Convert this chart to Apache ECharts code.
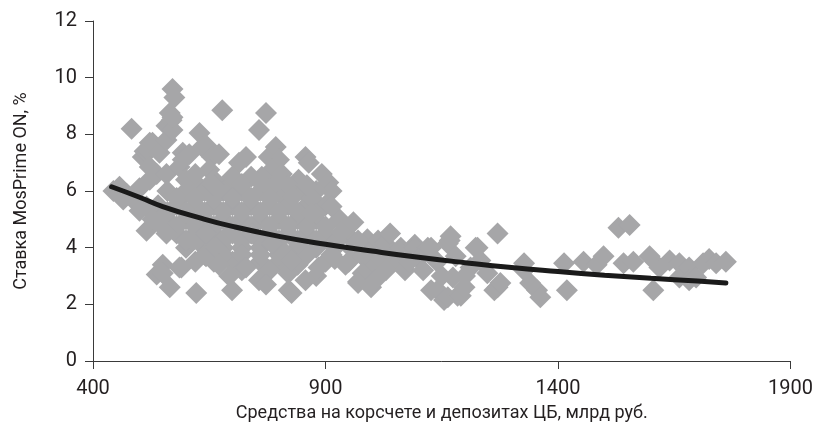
<!DOCTYPE html>
<html>
<head>
<meta charset="utf-8">
<script src="https://cdn.jsdelivr.net/npm/echarts@6/dist/echarts.min.js"></script>
<style>
html,body{margin:0;padding:0;background:#fff;}
#chart{width:816px;height:427px;}
</style>
</head>
<body>
<div id="chart"></div>
<script>
// оси
var xTicks=[400,900,1400,1900];
var yTicks=[0,2,4,6,8,10,12];

// точки: [средства, ставка]
var pointsUpper=[
 [444,6.0],[457,6.15],[472,5.9],[486,5.7],[500,6.1],[483,8.2],[507,7.2],[511,7.4],[517,7.45],[522,7.7],
 [528,7.7],[522,6.4],[522,6.85],[537,6.6],[543,7.35],[558,7.8],[558,8.3],[558,6.6],[565,8.75],[569,8.5],
 [571,8.15],[571,8.6],[571,9.6],[575,9.3],[586,6.85],[593,7.35],[593,7.1],[607,7.3],[629,8.05],[635,7.55],
 [644,7.6],[656,7.2],[671,7.3],[678,8.85],[714,7.0],[729,7.2],[757,8.15],[772,8.75],[778,7.2],[793,7.55],
 [800,7.1],[785,6.75],[763,6.5],[857,7.2],[864,7.0],[842,6.4],[836,6.15],[806,6.6],[814,5.7],[892,6.6],
 [906,6.3],[913,6.0],[885,5.45],[700,6.5],[729,5.9],[686,6.15],[650,6.75],[629,6.15],[600,6.4],[586,5.7]
];
var pointsLower=[
 [465,5.7],[500,5.3],[515,5.45],[515,4.6],[528,5.0],[543,4.85],[537,3.05],[550,3.4],[550,3.1],[558,4.5],
 [565,2.6],[586,3.3],[590,3.3],[614,4.25],[622,2.4],[643,3.7],[643,4.5],[665,4.0],[671,3.4],[693,3.0],
 [699,2.5],[699,4.6],[729,3.3],[742,4.5],[757,2.85],[772,2.7],[785,4.15],[814,3.8],[821,2.5],[827,2.4],
 [827,3.55],[842,4.15],[857,2.85],[870,5.2],[885,3.3],[913,5.45],[913,3.75],[934,4.55],[943,3.4],[970,2.8],
 [970,4.25],[970,2.75],[998,2.6],[1007,2.85],[1013,4.25],[1028,4.15],[1039,4.5],[1062,3.9],[1062,4.0],[1071,3.2]
];
var pointsMiddle=[
 [560,6.0],[600,6.0],[640,6.0],[680,6.0],[720,6.0],[760,6.0],[800,6.0],[850,6.0],[880,6.0],
 [540,5.5],[580,5.5],[620,5.5],[660,5.5],[700,5.5],[740,5.5],[780,5.5],[820,5.5],[860,5.5],[900,5.5],
 [560,5.0],[600,5.0],[640,5.0],[680,5.0],[720,5.0],[760,5.0],[800,5.0],[840,5.0],[880,5.0],[930,5.0],[960,4.9],
 [580,4.5],[620,4.5],[660,4.5],[700,4.5],[740,4.5],[780,4.5],[820,4.5],[860,4.5],[900,4.5],[950,4.4],[990,4.3],
 [600,4.0],[640,4.0],[680,4.0],[720,4.0],[760,4.0],[800,4.0],[840,4.0],[880,4.0],[920,4.0],[960,3.9],[1000,3.9],[1040,3.8],
 [620,3.5],[660,3.5],[700,3.5],[760,3.5],[800,3.5],[840,3.4],[900,3.5],[950,3.5],[1000,3.4],[1040,3.4],
 [700,6.5],[740,6.5],[660,6.4],[620,6.6],[820,6.2],[780,6.1]
];
var pointsFill=[
 [580,5.75],[620,5.75],[660,5.75],[700,5.75],[740,5.75],[780,5.75],[830,5.8],[870,5.75],
 [560,5.25],[600,5.25],[640,5.25],[680,5.25],[720,5.25],[760,5.25],[800,5.25],[840,5.25],[880,5.2],
 [580,4.75],[620,4.75],[660,4.75],[700,4.75],[740,4.75],[780,4.75],[820,4.75],[860,4.75],[900,4.75],[945,4.7],
 [600,4.25],[640,4.25],[680,4.25],[720,4.25],[760,4.25],[800,4.25],[840,4.25],[880,4.25],[925,4.25],
 [640,3.75],[680,3.75],[720,3.75],[760,3.75],[800,3.75],[860,3.75],[920,3.6],[980,3.7],[1020,3.6],[1060,3.6],
 [720,3.2],[780,3.2],[820,3.1],[880,3.0],[980,3.1],[1030,3.2],[660,6.2],[720,6.25],[760,6.3],[800,6.35],[860,6.2]
];
var pointsRight=[
 [1092,4.1],[1092,4.0],[1120,4.0],[1127,4.0],[1127,2.5],[1141,2.5],[1155,2.15],[1163,4.15],[1163,2.25],[1167,4.25],
 [1169,4.4],[1174,2.95],[1184,2.3],[1191,2.3],[1199,2.6],[1212,3.3],[1223,4.0],[1227,4.0],[1233,3.55],[1248,3.1],
 [1263,2.5],[1270,4.5],[1270,2.6],[1276,2.75],[1327,3.45],[1327,3.2],[1340,2.75],[1355,2.5],[1362,2.25],[1413,3.45],
 [1419,2.5],[1455,3.5],[1483,3.4],[1498,3.7],[1530,4.7],[1554,4.8],[1541,3.45],[1562,3.5],[1597,3.7],[1605,2.5],
 [1618,3.3],[1640,3.55],[1661,3.45],[1661,2.95],[1682,3.3],[1682,2.85],[1697,2.95],[1712,3.45],[1725,3.6],[1740,3.45],
 [1761,3.5],[1100,3.6],[1140,3.5],[1180,3.7],[1080,3.5],[1110,3.2],[1150,3.0],[1200,3.0]
];

// линия тренда
var trendLine=[
 [440,6.15],[500,5.78],[550,5.45],[630,5.05],[700,4.75],[800,4.4],[900,4.12],[1000,3.88],
 [1100,3.66],[1200,3.47],[1300,3.3],[1400,3.16],[1500,3.03],[1600,2.92],[1700,2.82],[1761,2.75]
];

var allPoints=pointsUpper.concat(pointsMiddle,pointsFill,pointsLower,pointsRight);

var fontName='Roboto,sans-serif';
var myChart=echarts.init(document.getElementById('chart'),null,{renderer:'canvas'});
var option={
	animation:false,
	backgroundColor:'#ffffff',
	grid:{left:93,right:21,top:21,bottom:66,containLabel:false},
	xAxis:{
		type:'value',
		min:xTicks[0],max:xTicks[xTicks.length-1],interval:500,
		name:'Средства на корсчете и депозитах ЦБ, млрд руб.',
		nameLocation:'middle',nameGap:43,
		nameTextStyle:{fontFamily:fontName,fontSize:18,color:'#231f20'},
		axisLine:{show:true,onZero:false,lineStyle:{color:'#3a3a3a',width:1}},
		axisTick:{show:true,inside:false,length:8,lineStyle:{color:'#3a3a3a'}},
		axisLabel:{margin:18,fontFamily:fontName,fontSize:20,color:'#231f20',formatter:function(v){return String(v);}},
		splitLine:{show:false}
	},
	yAxis:{
		type:'value',
		min:yTicks[0],max:yTicks[yTicks.length-1],interval:2,
		name:'Ставка MosPrime ON, %',
		nameLocation:'middle',nameGap:63,
		nameTextStyle:{fontFamily:fontName,fontSize:18,color:'#231f20'},
		axisLine:{show:true,lineStyle:{color:'#3a3a3a',width:1}},
		axisTick:{show:true,inside:false,length:8,lineStyle:{color:'#3a3a3a'}},
		axisLabel:{margin:16,fontFamily:fontName,fontSize:20,color:'#231f20'},
		splitLine:{show:false}
	},
	series:[{
		type:'scatter',
		symbol:'diamond',
		symbolSize:22,
		itemStyle:{color:'#a6a6a8',opacity:1},
		data:allPoints
	},{
		type:'line',
		smooth:true,
		symbol:'none',
		lineStyle:{color:'#1a1a1a',width:5,cap:'round'},
		data:trendLine,
		z:5
	}]
};
myChart.setOption(option);
</script>
</body>
</html>
